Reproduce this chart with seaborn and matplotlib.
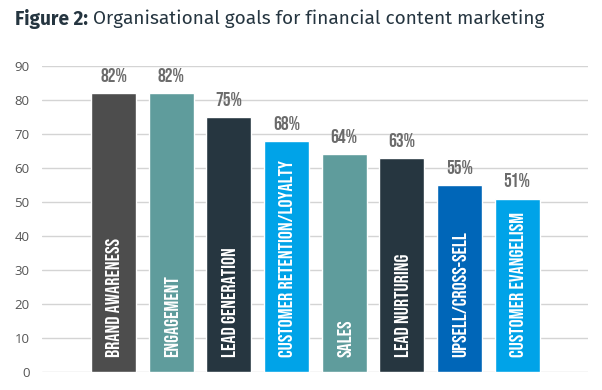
import matplotlib
matplotlib.use("Agg")
import matplotlib.pyplot as plt
import seaborn as sns
import pandas as pd

goals = ["BRAND AWARENESS", "ENGAGEMENT", "LEAD GENERATION", "CUSTOMER RETENTION/LOYALTY",
         "SALES", "LEAD NURTURING", "UPSELL/CROSS-SELL", "CUSTOMER EVANGELISM"]
pct = [82, 82, 75, 68, 64, 63, 55, 51]
bar_colors = ["#4d4d4d", "#5f9c9c", "#263640", "#00a3e8",
              "#5f9c9c", "#263640", "#0066b8", "#00a3e8"]

df = pd.DataFrame({"goal": goals, "pct": pct})

sns.set_theme(style="white")
bebas = ["Bebas Neue", "DejaVu Sans"]
fira = ["Fira Sans", "DejaVu Sans"]

fig = plt.figure(figsize=(6.02, 3.9), dpi=100)
ax = fig.add_axes([42 / 602, 1 - 372 / 390, 546 / 602, 306 / 390])

sns.barplot(data=df, x="goal", y="pct", hue="goal", palette=bar_colors,
            legend=False, width=0.78, saturation=1, ax=ax, zorder=3)

ax.set_ylim(0, 90)
ax.set_xlim(-1.24, 8.23)
ax.set_yticks(range(0, 91, 10))
ax.yaxis.grid(True, color="#d4d4d4", linewidth=1, zorder=0)
ax.set_axisbelow(True)
for s in ax.spines.values():
    s.set_visible(False)
ax.set_xticks([])
ax.set_xlabel("")
ax.set_ylabel("")
ax.tick_params(axis="y", length=0, pad=9, labelsize=9.5, labelcolor="#555555")
for lab in ax.get_yticklabels():
    lab.set_family("Open Sans")

for i, (g, v) in enumerate(zip(goals, pct)):
    ax.text(i, v + 3.3, f"{v}%", ha="center", va="bottom", fontsize=14,
            color="#6b6b6b", family=bebas)
    ax.text(i, 4.4, g, ha="center", va="bottom", rotation=90, fontsize=14.5,
            color="white", family=bebas)

# title: bold lead-in followed by regular text
t1 = fig.text(15 / 602, 1 - 19 / 390, "Figure 2:", ha="left", va="center",
              fontsize=13.7, fontweight="bold", color="#253540", family=fira)
fig.canvas.draw()
bb = t1.get_window_extent()
fig.text((bb.x1 + 5) / 602, 1 - 19 / 390, "Organisational goals for financial content marketing",
         ha="left", va="center", fontsize=13.7, color="#253540", family=fira)

fig.savefig("out.png", dpi=100)
